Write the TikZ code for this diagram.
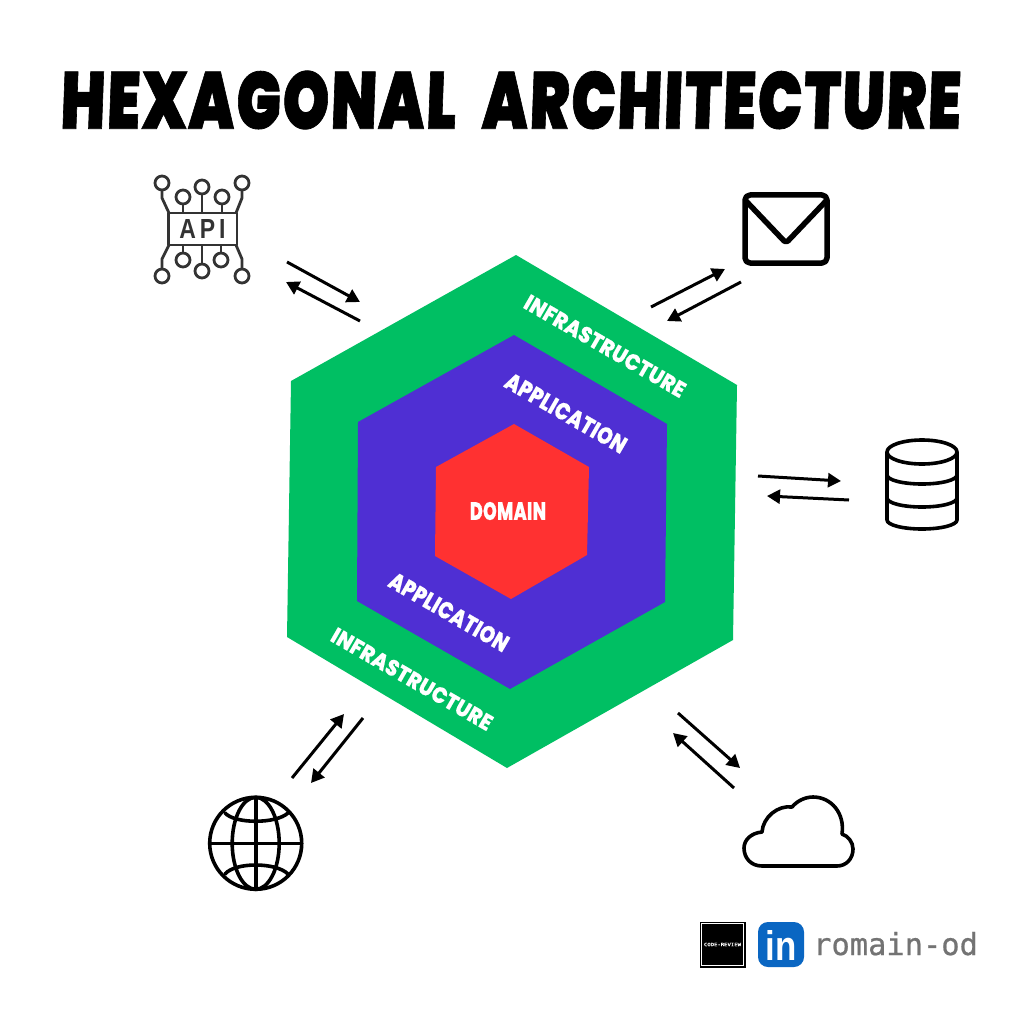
\documentclass[tikz,border=0pt]{standalone}
\usepackage{fontspec}
\usetikzlibrary{arrows.meta}
\setmainfont{Poppins}
\newfontfamily\ttlfont[FakeSlant=0.05,FakeBold=1,LetterSpace=3,WordSpace=2.2]{Poppins Black}
\newfontfamily\lblfont[FakeBold=.4,LetterSpace=1.5]{Poppins ExtraBold}
\newfontfamily\apifont{Liberation Sans}
\newfontfamily\monofont[FakeBold=.7]{DejaVu Sans Mono}
\definecolor{hexgreen}{HTML}{00BF63}
\definecolor{hexpurple}{HTML}{4F2FD3}
\definecolor{hexred}{HTML}{FF3131}
\definecolor{lnblue}{HTML}{0A66C2}
\definecolor{iconink}{HTML}{333333}
\definecolor{handle}{HTML}{737373}
\tikzset{
  flow/.style={draw=black,line width=3pt,-{Triangle[length=13pt,width=14pt]}},
  icon/.style={draw=black,line width=3.6pt,line join=round,line cap=round},
  apiline/.style={draw=iconink,line width=2.8pt,line join=round},
  lab/.style={inner sep=0pt,outer sep=0pt,text=white},
}
\newcommand{\fit}[3]{\resizebox{#1pt}{#2pt}{#3}}
\begin{document}
\begin{tikzpicture}[x=1pt,y=-1pt]
\useasboundingbox[fill=white] (0,0) rectangle (1024,1024);
% title
\node[inner sep=0pt,text=black] (title) at (510,100) {\fit{900}{58}{\ttlfont HEXAGONAL ARCHITECTURE}};
% hexagons
\fill[hexgreen] (516,255)--(737,385)--(733,640)--(507,768)--(287,637)--(291,381)--cycle;
\fill[hexpurple] (514,335)--(667,424)--(665,602)--(510,689)--(357,601)--(358,422)--cycle;
\fill[hexred] (514,424)--(589,467)--(587,555)--(511,599)--(435,556)--(436,467)--cycle;
% labels
\node[lab,rotate=-30] (infraT) at (605,346) {\fit{182}{16}{\lblfont INFRASTRUCTURE}};
\node[lab,rotate=-30] (appT) at (566,413) {\fit{136}{17}{\lblfont APPLICATION}};
\node[lab] (domain) at (508,511) {\fit{76}{18}{\lblfont DOMAIN}};
\node[lab,rotate=-30] (appB) at (449,612) {\fit{134}{17}{\lblfont APPLICATION}};
\node[lab,rotate=-30] (infraB) at (412,679) {\fit{182}{16}{\lblfont INFRASTRUCTURE}};
% arrow ends
\coordinate (a1) at (287,262); \coordinate (a2) at (360,302);
\coordinate (a3) at (360,321); \coordinate (a4) at (286,282);
\coordinate (m1) at (651,307); \coordinate (m2) at (725,269);
\coordinate (m3) at (741,282); \coordinate (m4) at (667,321);
\coordinate (d1) at (758,476); \coordinate (d2) at (841,481);
\coordinate (d3) at (849,500); \coordinate (d4) at (767,496);
\coordinate (g1) at (292,778); \coordinate (g2) at (344,714);
\coordinate (g3) at (363,718); \coordinate (g4) at (311,783);
\coordinate (c1) at (678,713); \coordinate (c2) at (740,768);
\coordinate (c3) at (734,788); \coordinate (c4) at (673,733);
\foreach \s/\e in {a1/a2,a3/a4,m1/m2,m3/m4,d1/d2,d3/d4,g1/g2,g3/g4,c1/c2,c3/c4}
  \draw[flow] (\s) -- (\e);
% API icon
\draw[apiline] (168.5,213) rectangle (237,245);
\node[inner sep=0pt,text=iconink] (apitext) at (202.5,229) {\fit{46}{19}{\bfseries\apifont A\,P\,I}};
\foreach \x/\y/\r in {162/183/7,242/183/7,202/187/7,183/197/7,222/197/7,162/276/7,242/276/7,202/271/7,183/260/7,221/260/7}
  \draw[apiline] (\x,\y) circle (\r);
\draw[apiline] (169,213)--(162,198)--(162,190);
\draw[apiline] (236,213)--(242,198)--(242,190);
\draw[apiline] (202,194)--(202,213);
\draw[apiline] (183,204)--(183,213);
\draw[apiline] (222,204)--(222,213);
\draw[apiline] (169,245)--(162,259)--(162,269);
\draw[apiline] (236,245)--(242,259)--(242,269);
\draw[apiline] (202,245)--(202,264);
\draw[apiline] (183,245)--(183,253);
\draw[apiline] (221,245)--(221,253);
% mail icon
\draw[icon,line width=5.5pt,rounded corners=5pt] (745,195) rectangle (827,263);
\draw[icon,line width=5.5pt,rounded corners=3pt] (746,201)--(786,243)--(826,201);
% database icon
\draw[icon] (922,452) ellipse (35 and 12);
\draw[icon] (887,452)--(887,520) arc[start angle=180,end angle=0,x radius=35,y radius=9] --(957,452);
\draw[icon] (887,475) arc[start angle=180,end angle=0,x radius=35,y radius=9];
\draw[icon] (887,498) arc[start angle=180,end angle=0,x radius=35,y radius=9];
% globe icon
\draw[icon] (255.7,843.3) circle (46);
\draw[icon] (255.7,843.3) ellipse (23.5 and 46);
\draw[icon] (255.7,797.3)--(255.7,889.3);
\draw[icon] (209.7,843.3)--(301.7,843.3);
\draw[icon] (225,813) .. controls (235,824) and (276,824) .. (288,813);
\draw[icon] (225,874) .. controls (235,862) and (276,862) .. (288,874);
% cloud icon
\draw[icon] (762,866) .. controls (751,866) and (744,858) .. (744,848)
  .. controls (744,840) and (751,833) .. (762,832)
  .. controls (763,817) and (778,805) .. (792,807)
  .. controls (797,801) and (805,797) .. (813,797)
  .. controls (831,797) and (845,813) .. (842,834)
  .. controls (848,836) and (853,842) .. (853,849)
  .. controls (853,859) and (846,866) .. (837,866) -- cycle;
% footer
\fill[black] (699.5,921.5) rectangle (745.5,967.5);
\draw[white,line width=.7pt] (701.5,923.5) rectangle (743.5,965.5);
\node[inner sep=0pt,text=white] (codereview) at (722.5,944.5) {\fit{37}{3.4}{\monofont CODE-REVIEW}};
\fill[lnblue,rounded corners=10pt] (758,922) rectangle (804,967);
\node[inner sep=0pt,text=white] (lin) at (781,945) {\fit{31}{30}{\bfseries\apifont in}};
\node[inner sep=0pt,anchor=base west,text=handle,font=\monofont\fontsize{30.4}{32}\selectfont] (handle) at (813,955) {romain-od};
\end{tikzpicture}
\end{document}
